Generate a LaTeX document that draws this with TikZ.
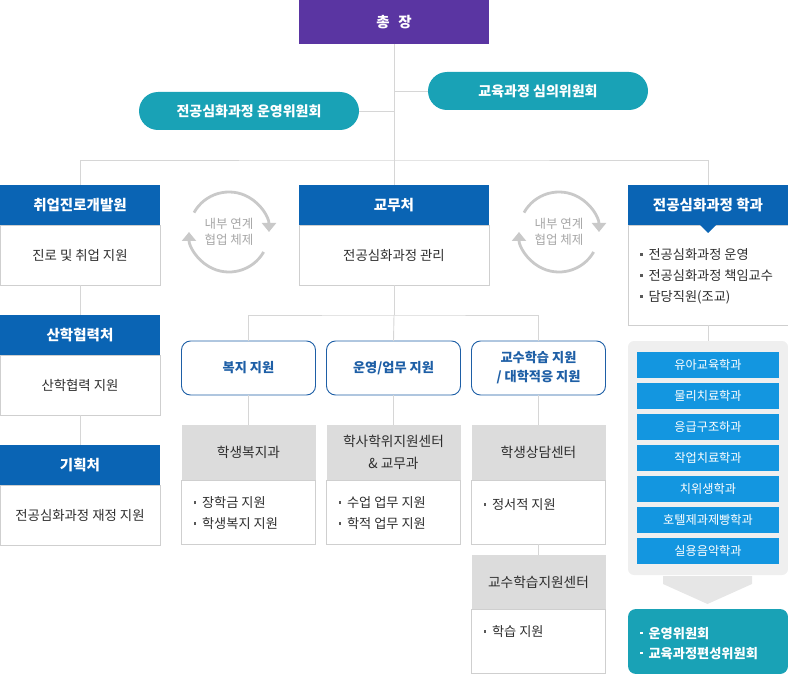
\documentclass[tikz,border=0pt]{standalone}
\usepackage{fontspec}
\setmainfont{Noto Sans CJK KR}
\usetikzlibrary{arrows.meta,positioning}
\definecolor{chongc}{HTML}{5A35A2}
\definecolor{wteal}{HTML}{19A2B6}
\definecolor{hblue}{HTML}{0A64B4}
\definecolor{dblue}{HTML}{1396E0}
\definecolor{rblue}{HTML}{1E5FA6}
\definecolor{lgray}{HTML}{D6D6D6}
\definecolor{bgray}{HTML}{CFCFCF}
\definecolor{ghead}{HTML}{DCDCDC}
\definecolor{pgray}{HTML}{EFEFEF}
\definecolor{agray}{HTML}{E6E6E6}
\definecolor{cgray}{HTML}{C9C9C9}
\definecolor{ctext}{HTML}{A6A6A6}
\definecolor{txt}{HTML}{2E2E2E}
\newcommand\sqb{\textcolor{txt!80}{\rule[0.3em]{2.6pt}{2.6pt}}\hspace{6pt}}
\begin{document}
\begin{tikzpicture}[x=1pt,y=1pt,
  every node/.style={inner sep=0pt,outer sep=0pt},
  ln/.style={draw=lgray,line width=0.9pt},
  hd/.style={fill=hblue,text=white,minimum width=160pt,minimum height=40pt,font=\bfseries\fontsize{14.5}{16}\selectfont},
  bd/.style={draw=bgray,line width=0.9pt,fill=white,minimum width=160pt,minimum height=60pt,text=txt,font=\fontsize{13.4}{15}\selectfont},
  pill/.style={fill=wteal,text=white,rounded corners=19pt,minimum width=220pt,minimum height=38pt,font=\bfseries\fontsize{14}{16}\selectfont},
  rbox/.style={draw=rblue,line width=0.9pt,fill=white,rounded corners=9pt,text=rblue,minimum width=134pt,minimum height=54pt,align=center,font=\bfseries\fontsize{13.2}{19}\selectfont},
  ghd/.style={fill=ghead,text=txt,minimum width=134pt,minimum height=55pt,align=center,font=\fontsize{13.7}{22}\selectfont},
  gbd/.style={draw=bgray,line width=0.9pt,fill=white,minimum width=134pt,minimum height=64pt},
  lst/.style={align=left,text=txt,font=\fontsize{13.2}{21}\selectfont},
  dept/.style={fill=dblue,text=white,minimum width=142pt,minimum height=26pt,font=\fontsize{12.2}{14}\selectfont},
  cyc/.style={draw=cgray,line width=2.8pt,-{Triangle[width=14pt,length=9pt]}},
  cyctxt/.style={align=center,text=ctext,font=\fontsize{12.5}{15.5}\selectfont}]
\useasboundingbox (0,0) rectangle (788,-674);
% Tete
\node[fill=chongc,text=white,minimum width=190pt,minimum height=44pt,font=\bfseries\fontsize{14.5}{16}\selectfont] (chong) at (394,-22) {총\hspace{0.6em}장};
\node[pill] (simui) at (538,-91) {교육과정 심의위원회};
\node[pill] (unyeong) at (249,-111) {전공심화과정 운영위원회};
\coordinate (bar) at (394,-160);
\draw[ln] (chong.south) -- (bar);
\draw[ln] (simui.west) -- (simui.west -| chong.south);
\draw[ln] (unyeong.east) -- (unyeong.east -| chong.south);
% Premiere rangee
\node[hd] (h1) at (80,-205) {취업진로개발원};
\node[bd,anchor=north] (b1) at (h1.south) {진로 및 취업 지원};
\node[hd,minimum width=190pt] (h2) at (394,-205) {교무처};
\node[bd,anchor=north,minimum width=190pt] (b2) at (h2.south) {전공심화과정 관리};
\node[hd] (h3) at (708,-205) {전공심화과정 학과};
\node[bd,anchor=north,minimum height=100pt] (b3) at (h3.south) {};
\fill[hblue] ([xshift=-8pt]h3.south) -- ([xshift=8pt]h3.south) -- ([yshift=-8pt]h3.south) -- cycle;
\node[lst,below right=24pt and 12pt of b3.north west] (l3) {\sqb 전공심화과정 운영\\\sqb 전공심화과정 책임교수\\\sqb 담당직원(조교)};
\draw[ln] (h1.north) |- (bar) -| (h3.north);
\draw[ln] (bar) -- (h2.north);
% Cycles
\node[cyctxt] (cy1) at (229,-232) {내부 연계\\협업 체제};
\draw[cyc] ([shift={(151:40)}]cy1) arc[start angle=151,end angle=0,radius=40];
\draw[cyc] ([shift={(-30:40)}]cy1) arc[start angle=-30,end angle=-180,radius=40];
\node[cyctxt] (cy2) at (559,-232) {내부 연계\\협업 체제};
\draw[cyc] ([shift={(151:40)}]cy2) arc[start angle=151,end angle=0,radius=40];
\draw[cyc] ([shift={(-30:40)}]cy2) arc[start angle=-30,end angle=-180,radius=40];
% Colonne gauche
\node[hd] (h4) at (80,-335) {산학협력처};
\node[bd,anchor=north] (b4) at (h4.south) {산학협력 지원};
\node[hd] (h5) at (80,-465) {기획처};
\node[bd,anchor=north] (b5) at (h5.south) {전공심화과정 재정 지원};
\draw[ln] (b1.south) -- (h4.north);
\draw[ln] (b4.south) -- (h5.north);
% Milieu
\coordinate (mid) at (394,-315);
\node[rbox] (r1) at (248.5,-368) {복지 지원};
\node[rbox] (r2) at (393.5,-368) {운영/업무 지원};
\node[rbox] (r3) at (538.5,-368) {교수학습 지원\\/ 대학적응 지원};
\draw[ln] (b2.south) -- (mid);
\draw[ln] (r1.north) |- (mid) -| (r3.north);
\draw[ln] (mid) -- (r2.north);
\node[ghd] (g1) at (248.5,-452.5) {학생복지과};
\node[gbd,anchor=north] (c1) at (g1.south) {};
\node[lst,below right=17pt and 12pt of c1.north west] (l1) {\sqb 장학금 지원\\\sqb 학생복지 지원};
\node[ghd] (g2) at (393.5,-452.5) {학사학위지원센터\\\& 교무과};
\node[gbd,anchor=north] (c2) at (g2.south) {};
\node[lst,below right=17pt and 12pt of c2.north west] (l2) {\sqb 수업 업무 지원\\\sqb 학적 업무 지원};
\node[ghd] (g3) at (538.5,-452.5) {학생상담센터};
\node[gbd,anchor=north] (c3) at (g3.south) {};
\node[lst,below right=19pt and 12pt of c3.north west] (l3b) {\sqb 정서적 지원};
\node[ghd] (g4) at (538.5,-582) {교수학습지원센터};
\node[gbd,anchor=north] (c4) at (g4.south) {};
\node[lst,below right=16pt and 12pt of c4.north west] (l4) {\sqb 학습 지원};
\draw[ln] (r1.south) -- (g1.north);
\draw[ln] (r2.south) -- (g2.north);
\draw[ln] (r3.south) -- (g3.north);
\draw[ln] (c3.south) -- (g4.north);
% Colonne droite
\node[fill=pgray,rounded corners=6pt,minimum width=160pt,minimum height=234pt] (pnl) at (708,-458) {};
\draw[ln] (b3.south) -- (pnl.north);
\node[dept] (d1) at (708,-365) {유아교육학과};
\node[dept] (d2) at (708,-396) {물리치료학과};
\node[dept] (d3) at (708,-427) {응급구조하과};
\node[dept] (d4) at (708,-458) {작업치료학과};
\node[dept] (d5) at (708,-489) {치위생학과};
\node[dept] (d6) at (708,-520) {호텔제과제빵학과};
\node[dept] (d7) at (708,-551) {실용음악학과};
\fill[agray] (663,-576) -- (752,-576) -- (752,-584) -- (707.5,-604) -- (663,-584) -- cycle;
\node[fill=wteal,rounded corners=8pt,minimum width=160pt,minimum height=65pt] (comm) at (708,-641.5) {};
\node[lst,text=white,font=\bfseries\fontsize{13.2}{20}\selectfont,below right=18pt and 12pt of comm.north west] (lc) {\textcolor{white}{\rule[0.3em]{2.6pt}{2.6pt}}\hspace{6pt}운영위원회\\\textcolor{white}{\rule[0.3em]{2.6pt}{2.6pt}}\hspace{6pt}교육과정편성위원회};
\end{tikzpicture}
\end{document}
